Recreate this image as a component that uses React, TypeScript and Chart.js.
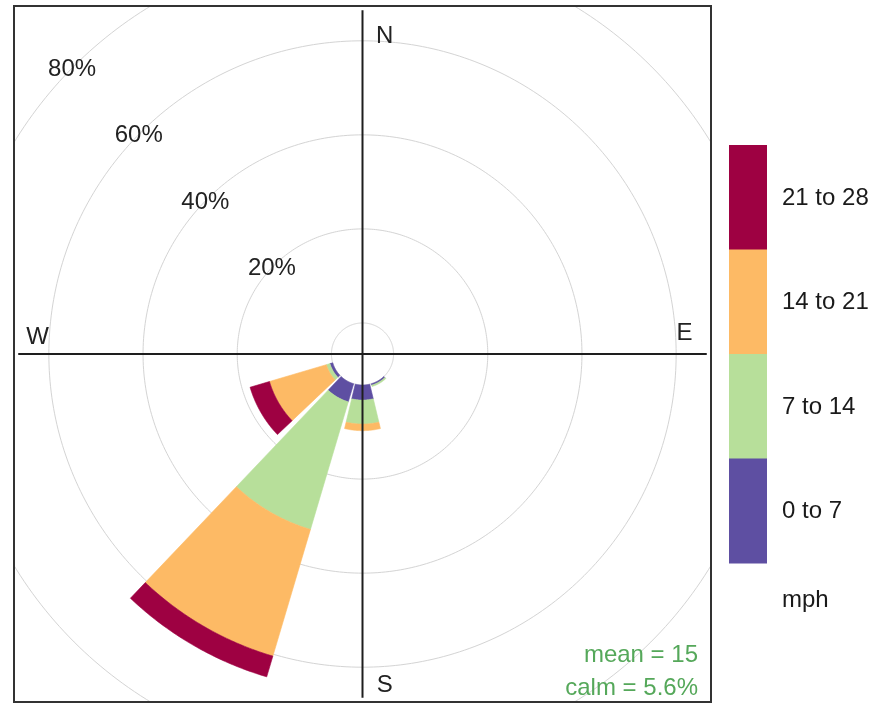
import React, { useEffect, useRef } from "react";
import { Chart, registerables } from "chart.js";

Chart.register(...registerables);

// ---- data ----
const directions = [0, 30, 60, 90, 120, 150, 180, 210, 240, 270, 300, 330];
const speedBins = ["0 to 7", "7 to 14", "14 to 21", "21 to 28"];
const binColors = ["#5E4FA2", "#B7DF9A", "#FDBA65", "#9E0142"];
// frequency (%) per direction for each speed bin
const freq0to7 = [0, 0, 0, 0, 0, 0.3, 3.2, 4.0, 0.6, 0, 0, 0];
const freq7to14 = [0, 0, 0, 0, 0, 0.3, 5.1, 28.3, 0.8, 0, 0, 0];
const freq14to21 = [0, 0, 0, 0, 0, 0, 1.4, 28.1, 12.6, 0, 0, 0];
const freq21to28 = [0, 0, 0, 0, 0, 0, 0, 4.6, 4.3, 0, 0, 0];
const gridPercents = [20, 40, 60, 80];
const gridLabels = ["20%", "40%", "60%", "80%"];
const compassLabels = ["N", "E", "S", "W"];
const unitLabel = "mph";
const statLines = ["mean = 15", "calm = 5.6%"];

const CALM_OFFSET = 6.6;
const AXIS_MAX = 74;
const HALF_WIDTH = 13.5;
const FONT = "'Liberation Sans', Arial, Helvetica, sans-serif";

const freqs = [freq0to7, freq7to14, freq14to21, freq21to28];

const windRosePlugin = {
  id: "windRose",
  beforeDatasetsDraw(chart: any) {
    const { ctx, chartArea, scales } = chart;
    const xs = scales.x;
    const ys = scales.y;
    const rad = (d: number) => (d * Math.PI) / 180;
    const px = (r: number, deg: number) => xs.getPixelForValue(r * Math.sin(rad(deg)));
    const py = (r: number, deg: number) => ys.getPixelForValue(r * Math.cos(rad(deg)));

    ctx.save();
    ctx.fillStyle = "#ffffff";
    ctx.fillRect(0, 0, chart.width, chart.height);
    ctx.beginPath();
    ctx.rect(chartArea.left, chartArea.top, chartArea.width, chartArea.height);
    ctx.clip();

    // grid circles
    ctx.strokeStyle = "#d4d4d4";
    ctx.lineWidth = 1;
    [0, ...gridPercents].forEach((p) => {
      ctx.beginPath();
      for (let a = 0; a <= 360; a += 1) {
        const X = px(CALM_OFFSET + p, a);
        const Y = py(CALM_OFFSET + p, a);
        if (a === 0) ctx.moveTo(X, Y);
        else ctx.lineTo(X, Y);
      }
      ctx.closePath();
      ctx.stroke();
    });

    // wedges
    const datasets = chart.data.datasets;
    let maxCum = 0;
    directions.forEach((d, di) => {
      let cum = 0;
      datasets.forEach((ds: any) => {
        const v = ds.freq[di];
        if (!v) return;
        const r0 = CALM_OFFSET + cum;
        const r1 = CALM_OFFSET + cum + v;
        cum += v;
        ctx.beginPath();
        let first = true;
        for (let a = d - HALF_WIDTH; a <= d + HALF_WIDTH + 1e-6; a += 0.5) {
          const X = px(r1, a);
          const Y = py(r1, a);
          if (first) {
            ctx.moveTo(X, Y);
            first = false;
          } else ctx.lineTo(X, Y);
        }
        for (let a = d + HALF_WIDTH; a >= d - HALF_WIDTH - 1e-6; a -= 0.5) {
          ctx.lineTo(px(r0, a), py(r0, a));
        }
        ctx.closePath();
        ctx.fillStyle = ds.backgroundColor;
        ctx.fill();
        ctx.strokeStyle = ds.backgroundColor;
        ctx.lineWidth = 0.6;
        ctx.stroke();
      });
      maxCum = Math.max(maxCum, cum);
    });

    // axis lines
    const R = CALM_OFFSET + maxCum + 1.5;
    ctx.strokeStyle = "#1e1e1e";
    ctx.lineWidth = 2;
    ctx.beginPath();
    ctx.moveTo(xs.getPixelForValue(0), ys.getPixelForValue(R));
    ctx.lineTo(xs.getPixelForValue(0), ys.getPixelForValue(-R));
    ctx.moveTo(xs.getPixelForValue(-R), ys.getPixelForValue(0));
    ctx.lineTo(xs.getPixelForValue(R), ys.getPixelForValue(0));
    ctx.stroke();

    // percent labels along NW diagonal
    ctx.fillStyle = "#222";
    ctx.font = `24px ${FONT}`;
    ctx.textAlign = "center";
    ctx.textBaseline = "middle";
    gridPercents.forEach((p, i) => {
      ctx.fillText(gridLabels[i], px(CALM_OFFSET + p, 315) - 2, py(CALM_OFFSET + p, 315) + 3);
    });

    // compass labels
    const compassPos = [
      [4.7, 67.6],
      [68.4, 4.3],
      [4.7, -70.4],
      [-69.0, 3.5],
    ];
    compassLabels.forEach((lab, i) => {
      ctx.fillText(lab, xs.getPixelForValue(compassPos[i][0]), ys.getPixelForValue(compassPos[i][1]));
    });

    // stats
    ctx.fillStyle = "#55A85A";
    ctx.font = `24px ${FONT}`;
    ctx.textAlign = "right";
    ctx.textBaseline = "alphabetic";
    ctx.fillText(statLines[0], chartArea.right - 13, chartArea.bottom - 40);
    ctx.fillText(statLines[1], chartArea.right - 13, chartArea.bottom - 7);

    ctx.restore();
  },
  afterDraw(chart: any) {
    const { ctx, chartArea } = chart;
    ctx.save();
    // frame
    ctx.strokeStyle = "#333";
    ctx.lineWidth = 2;
    ctx.strokeRect(chartArea.left, chartArea.top, chartArea.width, chartArea.height);

    // colour key
    const datasets = chart.data.datasets;
    const n = datasets.length;
    const barLeft = chartArea.right + 18;
    const barW = 38;
    const barTop = 145;
    const barBottom = 563;
    const segH = (barBottom - barTop) / n;
    ctx.font = `24px ${FONT}`;
    ctx.textAlign = "left";
    ctx.textBaseline = "middle";
    for (let k = 0; k < n; k++) {
      const ds = datasets[n - 1 - k];
      const top = barTop + k * segH;
      ctx.fillStyle = ds.backgroundColor;
      ctx.fillRect(barLeft, top, barW, segH + 0.5);
      ctx.fillStyle = "#1a1a1a";
      ctx.fillText(ds.label, barLeft + 53, top + segH / 2 + 1);
    }
    ctx.fillText(unitLabel, barLeft + 53, barBottom + 37);
    ctx.restore();
  },
};

export default function App() {
  const ref = useRef<HTMLCanvasElement>(null);
  useEffect(() => {
    document.body.style.margin = "0";
    if (!ref.current) return;
    const chart = new Chart(ref.current, {
      type: "scatter",
      data: {
        datasets: speedBins.map((label, i) => ({
          label,
          data: [],
          backgroundColor: binColors[i],
          freq: freqs[i],
        })) as any,
      },
      options: {
        animation: false,
        responsive: false,
        layout: { padding: { left: 14, top: 6, right: 175, bottom: 3 } },
        scales: {
          x: { type: "linear", min: -AXIS_MAX, max: AXIS_MAX, display: false },
          y: { type: "linear", min: -AXIS_MAX, max: AXIS_MAX, display: false },
        },
        plugins: { legend: { display: false }, tooltip: { enabled: false } },
      },
      plugins: [windRosePlugin],
    });
    return () => chart.destroy();
  }, []);
  return (
    <div style={{ width: 886, height: 705, background: "#fff" }}>
      <canvas ref={ref} width={886} height={705} style={{ display: "block" }} />
    </div>
  );
}
